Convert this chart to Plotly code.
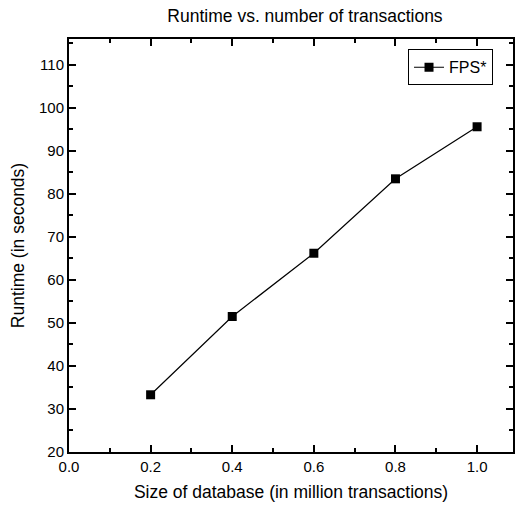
import plotly.graph_objects as go

sizes = [0.2, 0.4, 0.6, 0.8, 1.0]
runtime = [33.3, 51.5, 66.2, 83.5, 95.6]
series_name = "FPS*"
x_ticks = [0.0, 0.2, 0.4, 0.6, 0.8, 1.0]
x_tick_labels = ["0.0", "0.2", "0.4", "0.6", "0.8", "1.0"]
y_ticks = [20, 30, 40, 50, 60, 70, 80, 90, 100, 110]

fig = go.Figure()
fig.add_trace(go.Scatter(
    x=sizes, y=runtime, name=series_name, mode="lines+markers",
    line=dict(color="black", width=1.2),
    marker=dict(symbol="square", size=9, color="black"),
))

font = "Liberation Sans, Arial, sans-serif"
fig.update_layout(
    width=515, height=509,
    margin=dict(l=69, r=0, t=39, b=57),
    paper_bgcolor="white", plot_bgcolor="white",
    font=dict(family=font, color="black"),
    title=dict(text="Runtime vs. number of transactions", x=305/515, xanchor="center",
               y=1 - 16/509, yanchor="middle", font=dict(size=17.5)),
    showlegend=True,
    legend=dict(x=0.955, y=0.975, xanchor="right", yanchor="top",
                bordercolor="black", borderwidth=1, bgcolor="white",
                font=dict(size=16), itemwidth=30, tracegroupgap=0),
)
fig.update_xaxes(
    range=[0, 1.088], tickvals=x_ticks, ticktext=x_tick_labels,
    ticks="inside", ticklen=7, tickwidth=2, tickcolor="black",
    showline=True, linecolor="black", linewidth=2, mirror="ticks",
    showgrid=False, zeroline=False,
    tickfont=dict(size=15),
    minor=dict(ticks="inside", ticklen=4, tickwidth=1.5, tickcolor="black", dtick=0.1, showgrid=False),
    title=dict(text="Size of database (in million transactions)", font=dict(size=17.5), standoff=12),
)
fig.update_yaxes(
    range=[20, 116], tickvals=y_ticks,
    ticks="inside", ticklen=7, tickwidth=2, tickcolor="black",
    showline=True, linecolor="black", linewidth=2, mirror="ticks",
    showgrid=False, zeroline=False,
    tickfont=dict(size=15),
    minor=dict(ticks="inside", ticklen=4, tickwidth=1.5, tickcolor="black", dtick=5, showgrid=False),
    title=dict(text="Runtime (in seconds)", font=dict(size=17.5), standoff=10),
)
fig.write_html("out.html")
